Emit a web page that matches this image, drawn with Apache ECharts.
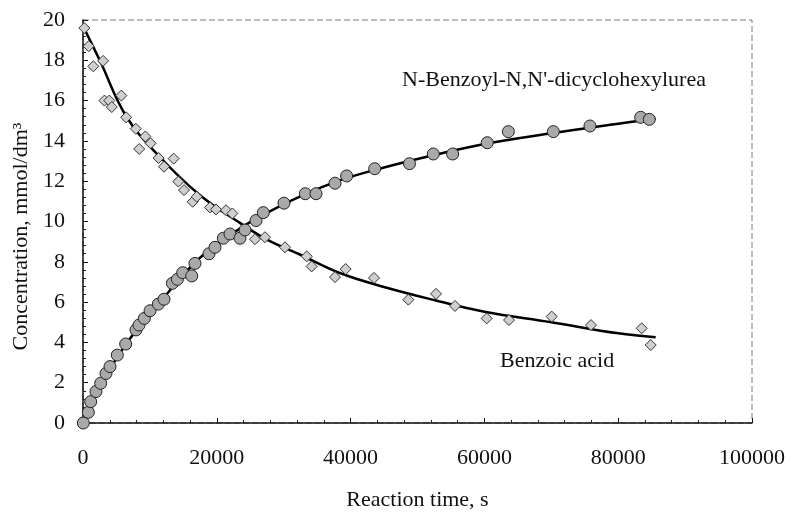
<!DOCTYPE html>
<html>
<head>
<meta charset="utf-8">
<script src="https://cdn.jsdelivr.net/npm/echarts@6/dist/echarts.min.js"></script>
<style>
html,body{margin:0;padding:0;background:#fff;}
#chart{width:790px;height:518px;}
</style>
</head>
<body>
<div id="chart"></div>
<script>
// Measured points: N-Benzoyl-N,N'-dicyclohexylurea (circles)
var ureaTime = [50, 800, 1150, 1940, 2640, 3440, 4040, 5130, 6380, 7920, 8370, 9170, 10020, 11260, 12110, 13360, 14110, 14900, 16250, 16740, 18830, 19730, 20980, 21970, 23470, 24220, 25860, 26950, 30040, 33230, 34830, 37670, 39410, 43600, 48800, 52360, 55250, 60430, 63580, 70300, 75780, 83360, 84650];
var ureaConc = [0, 0.53, 1.06, 1.56, 1.97, 2.46, 2.80, 3.37, 3.92, 4.62, 4.86, 5.19, 5.57, 5.90, 6.14, 6.93, 7.13, 7.46, 7.30, 7.92, 8.40, 8.72, 9.17, 9.38, 9.17, 9.58, 10.05, 10.44, 10.91, 11.38, 11.38, 11.90, 12.26, 12.62, 12.87, 13.35, 13.35, 13.91, 14.46, 14.46, 14.74, 15.17, 15.07];

// Measured points: Benzoic acid (diamonds)
var acidTime = [200, 850, 1540, 3000, 3200, 3930, 4300, 5730, 6450, 7900, 8400, 9320, 10100, 11300, 12110, 13550, 14250, 15100, 16400, 17000, 18980, 19880, 21380, 22320, 25710, 27200, 30190, 33440, 34180, 37670, 39260, 43500, 48630, 52770, 55610, 60340, 63680, 70060, 75930, 83510, 84860];
var acidConc = [19.6, 18.7, 17.7, 17.97, 16.0, 16.0, 15.68, 16.25, 15.17, 14.6, 13.6, 14.22, 13.88, 13.15, 12.72, 13.12, 11.98, 11.56, 10.98, 11.23, 10.7, 10.6, 10.56, 10.4, 9.12, 9.22, 8.72, 8.27, 7.77, 7.24, 7.64, 7.2, 6.12, 6.41, 5.81, 5.19, 5.11, 5.28, 4.86, 4.70, 3.87];

// Fitted curves
var fitTime  = [0, 2500, 6500, 11500, 17500, 23500, 27500, 32500, 38500, 45000, 52500, 60000, 70000, 80000, 85600];
var fitUrea  = [0, 1.8, 3.95, 6.0, 8.2, 9.66, 10.43, 11.25, 12.05, 12.68, 13.3, 13.85, 14.38, 14.85, 15.1];
var fitAcid  = [19.7, 18.0, 15.2, 13.2, 11.3, 9.92, 9.1, 8.35, 7.43, 6.75, 6.1, 5.52, 5.0, 4.45, 4.25];

var xTicks = [0, 20000, 40000, 60000, 80000, 100000];
var yTicks = [0, 2, 4, 6, 8, 10, 12, 14, 16, 18, 20];

var labelUrea = "N-Benzoyl-N,N'-dicyclohexylurea";
var labelAcid = "Benzoic acid";
var xTitle = "Reaction time, s";
var yTitle = "Concentration, mmol/dm³";

function pairs(xs, ys) { return xs.map(function (x, i) { return [x, ys[i]]; }); }
function plain(v) { return String(v); }

var FONT = '"Liberation Serif", "Times New Roman", serif';
var TXT = '#111';

var xMin = xTicks[0], xMax = xTicks[xTicks.length - 1], xInt = xTicks[1] - xTicks[0];
var yMin = yTicks[0], yMax = yTicks[yTicks.length - 1], yInt = yTicks[1] - yTicks[0];

var chart = echarts.init(document.getElementById('chart'));
chart.setOption({
  animation: false,
  backgroundColor: '#fff',
  grid: {left: 83, right: 38, top: 20, bottom: 95, show: true, backgroundColor: 'transparent',
         borderColor: '#777', borderWidth: 1, borderType: [6, 3]},
  xAxis: {
    type: 'value', min: xMin, max: xMax, interval: xInt,
    axisLine: {show: true, lineStyle: {color: '#111', width: 1.5}},
    axisTick: {show: true, inside: true, length: 5, lineStyle: {color: '#111', width: 1}},
    minorTick: {show: true, splitNumber: 5, length: 3, lineStyle: {color: '#222', width: 1}},
    axisLabel: {margin: 24, fontFamily: FONT, fontSize: 22, color: TXT, formatter: plain},
    splitLine: {show: false},
    name: xTitle, nameLocation: 'middle', nameGap: 66,
    nameTextStyle: {fontFamily: FONT, fontSize: 22, color: TXT}
  },
  yAxis: {
    type: 'value', min: yMin, max: yMax, interval: yInt,
    axisLine: {show: true, lineStyle: {color: '#111', width: 1.5}},
    axisTick: {show: true, inside: true, length: 5, lineStyle: {color: '#111', width: 1}},
    minorTick: {show: true, splitNumber: 5, length: 3, lineStyle: {color: '#222', width: 1}},
    axisLabel: {margin: 18, fontFamily: FONT, fontSize: 22, color: TXT, formatter: plain},
    splitLine: {show: false},
    name: yTitle, nameLocation: 'middle', nameGap: 50, nameRotate: 90,
    nameTextStyle: {fontFamily: FONT, fontSize: 22, color: TXT, padding: [0, 30, 0, 0]}
  },
  series: [
    {
      name: 'urea fit', type: 'line',
      data: pairs(fitTime, fitUrea), smooth: 0.4, showSymbol: false,
      lineStyle: {color: '#000', width: 2.5}, z: 2
    },
    {
      name: 'acid fit', type: 'line',
      data: pairs(fitTime, fitAcid), smooth: 0.4, showSymbol: false,
      lineStyle: {color: '#000', width: 2.5}, z: 2
    },
    {
      name: labelUrea, type: 'scatter',
      data: pairs(ureaTime, ureaConc), symbol: 'circle', symbolSize: 12,
      itemStyle: {color: '#a9a9a9', borderColor: '#222', borderWidth: 1, opacity: 1}, z: 3
    },
    {
      name: labelAcid, type: 'scatter',
      data: pairs(acidTime, acidConc), symbol: 'diamond', symbolSize: 11,
      itemStyle: {color: '#cfcfcf', borderColor: '#333', borderWidth: 1, opacity: 1}, z: 3
    }
  ],
  graphic: [
    {type: 'text', left: 402, top: 69, style: {text: labelUrea, font: '22px ' + FONT, fill: TXT}},
    {type: 'text', left: 500, top: 350, style: {text: labelAcid, font: '22px ' + FONT, fill: TXT}}
  ]
});
</script>
</body>
</html>
